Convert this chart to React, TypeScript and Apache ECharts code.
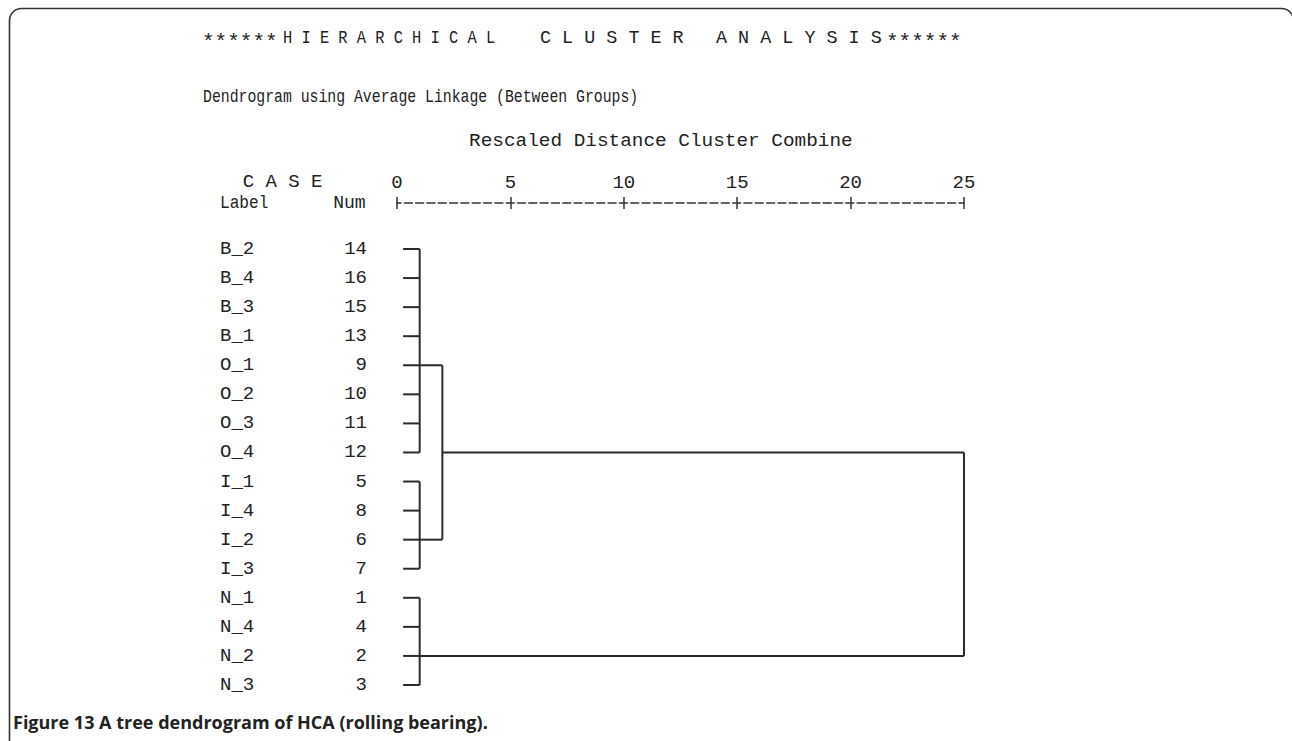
import React, { useEffect, useRef } from "react";
import * as echarts from "echarts";

const leafLabels = ["B_2", "B_4", "B_3", "B_1", "O_1", "O_2", "O_3", "O_4", "I_1", "I_4", "I_2", "I_3", "N_1", "N_4", "N_2", "N_3"];
const leafNums = [14, 16, 15, 13, 9, 10, 11, 12, 5, 8, 6, 7, 1, 4, 2, 3];
// merge nodes: ids 0..15 are leaves, 16+k is merge k
const mergeChildren = [
  [0, 1, 2, 3, 4, 5, 6, 7],
  [8, 9, 10, 11],
  [12, 13, 14, 15],
  [16, 17],
  [19, 18],
];
const mergeHeights = [1, 1, 1, 2, 25];
const mergeJoinRows = [4, 10, 14, 7, 7];
const axisTickValues = [0, 5, 10, 15, 20, 25];

const MONO = "'Liberation Mono', 'DejaVu Sans Mono', monospace";
const FS = 19;
const CH = 11.32;
const COL0 = 220;
const LEAF_START = 0.27;

function buildSegments() {
  const n = leafLabels.length;
  const nodeX = (id: number) => (id < n ? LEAF_START : mergeHeights[id - n]);
  const nodeRow = (id: number) => (id < n ? id : mergeJoinRows[id - n]);
  const segs: number[][] = [];
  mergeChildren.forEach((children, k) => {
    const h = mergeHeights[k];
    const rows = children.map(nodeRow);
    children.forEach((c) => segs.push([nodeX(c), nodeRow(c), h, nodeRow(c)]));
    segs.push([h, Math.min(...rows), h, Math.max(...rows)]);
  });
  return segs;
}

export default function App() {
  const ref = useRef<HTMLDivElement>(null);
  useEffect(() => {
    if (!ref.current) return;
    const chart = echarts.init(ref.current, null, { renderer: "svg" });
    const segs = buildSegments();
    const txt = (text: string, x: number, y: number, sx = 1, fs = FS) => ({
      type: "text",
      x,
      y,
      scaleX: sx,
      style: { text, font: `${fs}px ${MONO}`, fill: "#222", textVerticalAlign: "middle" },
    });
    const axisCommon = {
      type: "value", min: 0, max: 25, interval: 5, position: "top", offset: 46,
      splitLine: { show: false },
    };
    chart.setOption({
      animation: false,
      backgroundColor: "#fff",
      grid: { left: 397, width: 567, top: 249, height: 436, containLabel: false },
      xAxis: [
        {
          ...axisCommon,
          axisLine: { show: true, onZero: false, lineStyle: { color: "#333", width: 1.5, type: [8, 3.32], dashOffset: 4 } },
          axisTick: { show: true, length: 6, lineStyle: { color: "#333", width: 1.5 } },
          axisLabel: { show: true, margin: 11, fontFamily: MONO, fontSize: FS, color: "#222",
            formatter: (v: number) => (axisTickValues.includes(v) ? String(v) : "") },
        },
        {
          ...axisCommon,
          axisLine: { show: false, onZero: false },
          axisTick: { show: true, inside: true, length: 6, lineStyle: { color: "#333", width: 1.5 } },
          axisLabel: { show: false },
        },
      ],
      yAxis: [
        {
          type: "value", min: 0, max: leafLabels.length - 1, interval: 1, inverse: true, position: "left",
          axisLine: { show: false }, axisTick: { show: false }, splitLine: { show: false },
          axisLabel: { margin: 30, fontFamily: MONO, fontSize: FS, color: "#222",
            formatter: (v: number) => (leafNums[v] !== undefined ? String(leafNums[v]) : "") },
        },
        {
          type: "value", min: 0, max: leafLabels.length - 1, interval: 1, inverse: true, position: "left",
          axisLine: { show: false }, axisTick: { show: false }, splitLine: { show: false },
          axisLabel: { margin: 177, align: "left", fontFamily: MONO, fontSize: FS, color: "#222",
            formatter: (v: number) => leafLabels[v] ?? "" },
        },
      ],
      series: [
        {
          type: "custom",
          xAxisIndex: 0,
          yAxisIndex: 0,
          clip: false,
          data: segs,
          encode: { x: [0, 2], y: [1, 3] },
          renderItem: (_p: any, api: any) => {
            const a = api.coord([api.value(0), api.value(1)]);
            const b = api.coord([api.value(2), api.value(3)]);
            return {
              type: "line",
              shape: { x1: a[0], y1: a[1], x2: b[0], y2: b[1] },
              style: { stroke: "#2b2b2b", lineWidth: 2 },
            };
          },
        },
      ],
      graphic: [
        { type: "rect", shape: { x: 9.5, y: 8.5, width: 1284, height: 745, r: 12 }, style: { fill: "none", stroke: "#333", lineWidth: 1.6 } },
        txt("******", 202, 42, 1, 21),
        txt("H I E R A R C H I C A L", 283, 38, 0.81),
        txt("C L U S T E R", 540, 38, 0.97),
        txt("A N A L Y S I S", 716, 38, 0.97),
        txt("******", 886, 42, 1, 21),
        txt("Dendrogram using Average Linkage (Between Groups)", 203, 97, 0.78),
        txt("Rescaled Distance Cluster Combine", 469, 141, 1.02),
        txt("C A S E", COL0 + 2 * CH, 182),
        txt("Label", COL0, 203, 0.85),
        txt("Num", COL0 + 10 * CH, 203, 0.95),
        {
          type: "text", x: 13, y: 722,
          style: { text: "Figure 13 A tree dendrogram of HCA (rolling bearing).", font: "bold 18px 'Open Sans', sans-serif", fill: "#222", textVerticalAlign: "middle" },
        },
      ],
    });
    return () => chart.dispose();
  }, []);
  return <div ref={ref} style={{ position: "fixed", left: 0, top: 0, width: 1292, height: 741, background: "#fff" }} />;
}
